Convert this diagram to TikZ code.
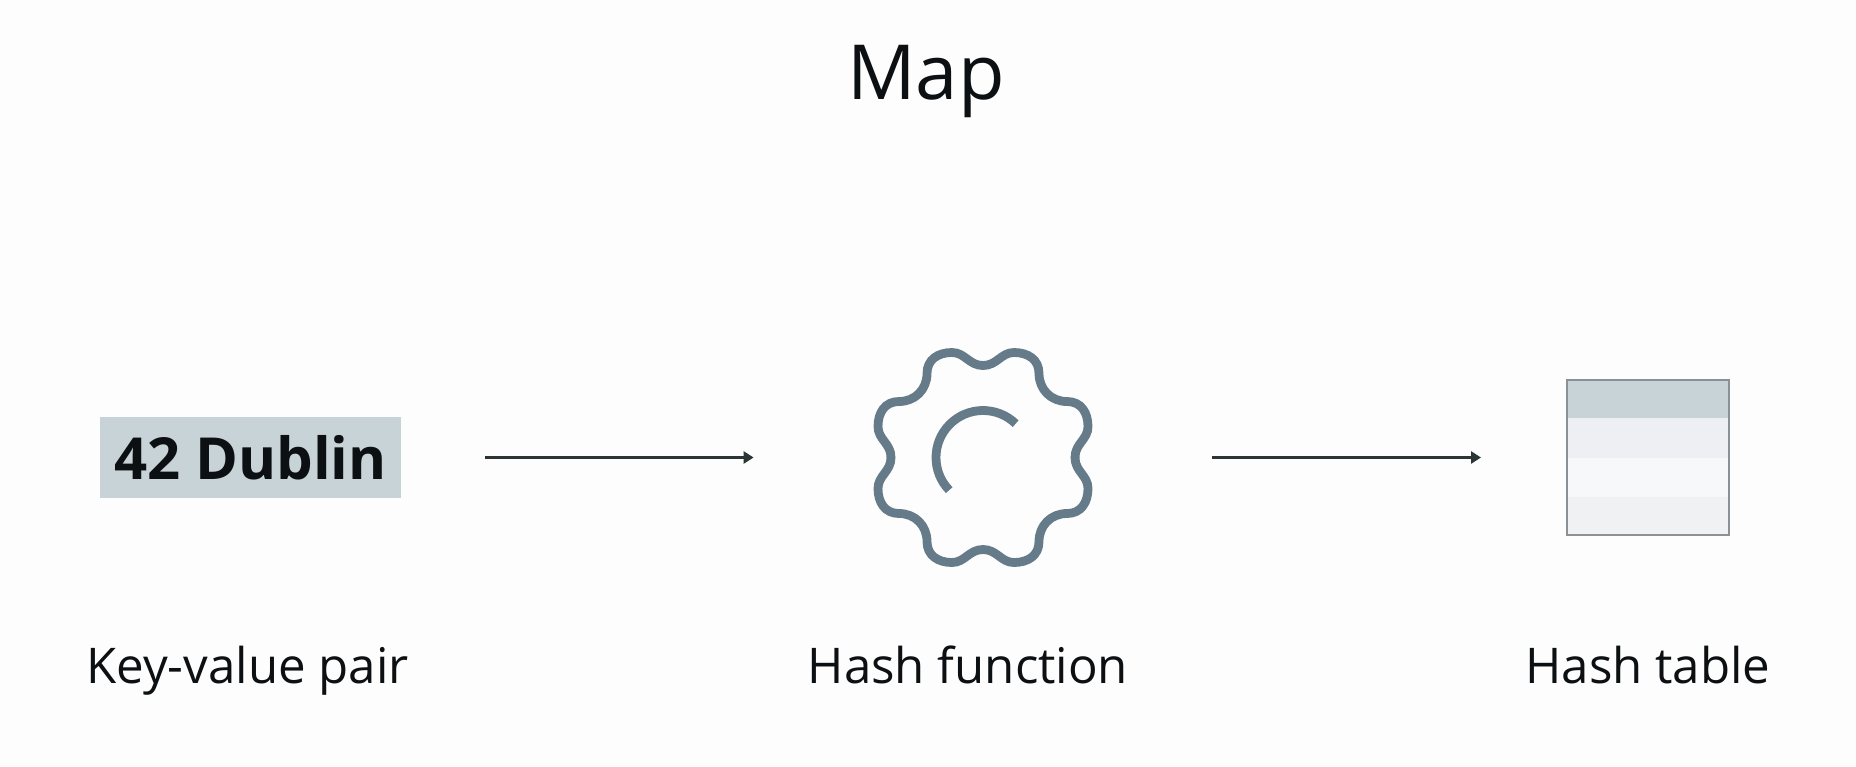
\documentclass[tikz,border=0pt]{standalone}
\usepackage{fontspec}
\setmainfont{Open Sans}
\usetikzlibrary{arrows.meta}
\definecolor{ink}{HTML}{2B3535}
\definecolor{gearc}{HTML}{667B8A}
\definecolor{headc}{HTML}{C8D3D8}
\definecolor{rowa}{HTML}{EDEFF3}
\definecolor{rowb}{HTML}{F6F8FA}
\definecolor{rowc}{HTML}{EFF1F3}
\definecolor{edgec}{HTML}{8A9296}
\definecolor{txt}{HTML}{0D1012}
\definecolor{paper}{HTML}{FDFDFD}
\tikzset{
  px/.style={x=0.5pt,y=-0.5pt},
  caption/.style={inner sep=0pt,text=txt,anchor=base,font=\fontsize{24.6}{28}\selectfont},
  flow/.style={draw=ink,line width=1.6pt,-{Triangle[length=5pt,width=6pt]}},
  gearline/.style={draw=gearc,line width=4.4pt}
}
\begin{document}
\begin{tikzpicture}[px]
\useasboundingbox[fill=paper] (0,0) rectangle (1856,766);
\node[caption,font=\fontsize{38}{44}\selectfont] (title) at (926,99) {Map};
\node[fill=headc,minimum width=150.5pt,minimum height=40.5pt,inner sep=0pt,text=txt,font=\bfseries\fontsize{29}{34}\selectfont] (kv) at (250.5,457.5) {42 Dublin};
\node[minimum size=110pt,inner sep=0pt] (gear) at (983,457.5) {};
\foreach \r in {0,90,180,270}
  \draw[gearline,line cap=round,shift={(gear.center)},rotate=\r]
   (0,-92) .. controls (14,-92) and (18,-105) .. (31,-105)
   .. controls (45,-105) and (56,-98) .. (56,-84)
   .. controls (56,-68) and (68,-56) .. (84,-56)
   .. controls (98,-56) and (105,-45) .. (105,-31)
   .. controls (105,-18) and (92,-14) .. (92,0);
\draw[gearline] (gear.center) ++(-46:47) arc[start angle=-46,end angle=-224,radius=47];
\node[minimum width=81pt,minimum height=77.5pt,inner sep=0pt,outer sep=0pt] (tbl) at (1648,457.5) {};
\fill[headc] (1567,379) rectangle (1729,418);
\fill[rowa] (1567,418) rectangle (1729,458);
\fill[rowb] (1567,458) rectangle (1729,497);
\fill[rowc] (1567,497) rectangle (1729,535);
\draw[edgec,line width=1pt] (tbl.north west) rectangle (tbl.south east);
\draw[flow,shorten <=42pt,shorten >=59.5pt] (kv.east) -- (gear.west);
\draw[flow,shorten <=59.5pt,shorten >=43pt] (gear.east) -- (tbl.west);
\node[caption] (l1) at (247.5,683) {Key-value pair};
\node[caption] (l2) at (968,683) {Hash function};
\node[caption] (l3) at (1648,683) {Hash table};
\end{tikzpicture}
\end{document}
